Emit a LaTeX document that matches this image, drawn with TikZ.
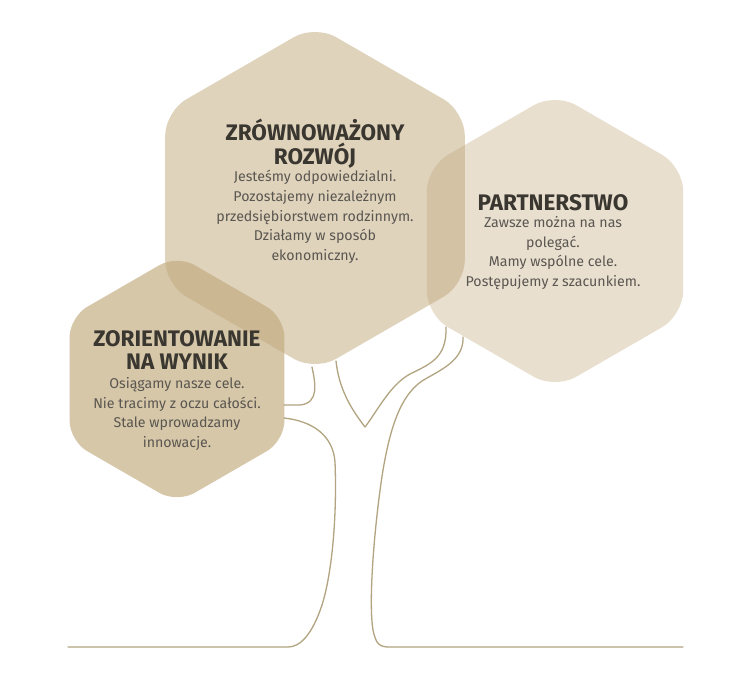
\documentclass[tikz,border=0pt]{standalone}
\usepackage{fontspec}
\setmainfont{Fira Sans}
\definecolor{hexbase}{RGB}{192,168,122}
\definecolor{treecol}{RGB}{178,164,128}
\definecolor{titlecol}{RGB}{58,54,48}
\definecolor{bodycol}{RGB}{90,86,80}
\begin{document}
\begin{tikzpicture}[x=1pt,y=-1pt,
  hexa/.style={fill=hexbase, rounded corners=24pt},
  treeline/.style={draw=treecol, line width=1.3pt, line join=round, line cap=round},
  titletext/.style={text=titlecol, align=center, font=\fontsize{22.5}{23.5}\selectfont\bfseries, inner sep=0pt},
  bodytext/.style={text=bodycol, align=center, font=\fontsize{14.2}{19.6}\selectfont, inner sep=0pt}]
\useasboundingbox[fill=white] (0,0) rectangle (730,675);
% hexagons
\path[hexa, fill opacity=0.5] (315,25) -- (464.8,111.5) -- (464.8,284.5) -- (315,371) -- (165.2,284.5) -- (165.2,111.5) -- cycle;
\path[hexa, fill opacity=0.36] (555,93) -- (683.2,167) -- (683.2,315) -- (555,389) -- (426.8,315) -- (426.8,167) -- cycle;
\path[hexa, fill opacity=0.64, rounded corners=20pt] (177,255) -- (284.4,317) -- (284.4,441) -- (177,503) -- (69.6,441) -- (69.6,317) -- cycle;
% tree
\draw[treeline] (312,367) .. controls (315,382) and (320,403) .. (300,405) -- (284,405);
\draw[treeline] (284,418) .. controls (312,421) and (333,435) .. (335,462) .. controls (337,510) and (333,570) .. (322,605) .. controls (312,635) and (300,647) .. (288,647) -- (68,647);
\draw[treeline] (336,361) .. controls (339,390) and (352,410) .. (365,427) .. controls (378,410) and (390,385) .. (410,374) .. controls (430,364) and (447,358) .. (446,327);
\draw[treeline] (463,337) .. controls (464,358) and (445,368) .. (427,378) .. controls (400,392) and (390,430) .. (383,470) .. controls (375,520) and (368,600) .. (373,630) .. controls (376,645) and (380,647) .. (390,647) -- (683,647);
% texts
\node[titletext] (t1) at (315,143.5) {ZRÓWNOWAŻONY\\ROZWÓJ};
\node[bodytext] (b1) at (315,217) {Jesteśmy odpowiedzialni.\\Pozostajemy niezależnym\\przedsiębiorstwem rodzinnym.\\Działamy w sposób\\ekonomiczny.};
\node[titletext] (t2) at (553,203) {PARTNERSTWO};
\node[bodytext] (b2) at (553,253) {Zawsze można na nas\\polegać.\\Mamy wspólne cele.\\Postępujemy z szacunkiem.};
\node[titletext] (t3) at (177,350) {ZORIENTOWANIE\\NA WYNIK};
\node[bodytext] (b3) at (177,414) {Osiągamy nasze cele.\\Nie tracimy z oczu całości.\\Stale wprowadzamy\\innowacje.};
\end{tikzpicture}
\end{document}
